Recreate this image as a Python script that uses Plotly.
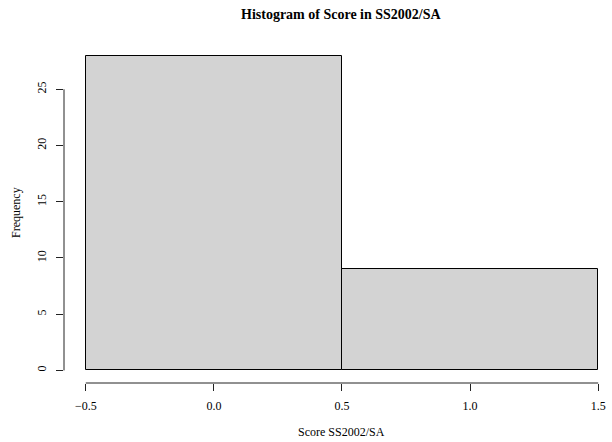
import plotly.graph_objects as go

# Data
bin_edges = [-0.5, 0.5, 1.5]
counts = [28, 9]
x_ticks = [-0.5, 0.0, 0.5, 1.0, 1.5]
x_tick_labels = ["\u22120.5", "0.0", "0.5", "1.0", "1.5"]
y_ticks = [0, 5, 10, 15, 20, 25]
y_tick_labels = ["0", "5", "10", "15", "20", "25"]
title_text = "<b>Histogram of Score in SS2002/SA</b>"
x_label = "Score SS2002/SA"
y_label = "Frequency"

W, H = 612, 442
ml, mr, mt, mb = 64, 0, 43, 59
plot_w = W - ml - mr
px_per_unit = 256.2
x0 = -0.585
x1 = x0 + plot_w / px_per_unit

centers = [(bin_edges[i] + bin_edges[i + 1]) / 2 for i in range(len(counts))]
widths = [bin_edges[i + 1] - bin_edges[i] for i in range(len(counts))]

font_family = "Liberation Serif, Times New Roman, serif"

fig = go.Figure()
fig.add_trace(go.Bar(
    x=centers, y=counts, width=widths,
    marker=dict(color="#D3D3D3", line=dict(color="black", width=1)),
    hoverinfo="skip",
))

fig.update_layout(
    width=W, height=H,
    margin=dict(l=ml, r=mr, t=mt, b=mb, pad=0),
    paper_bgcolor="white", plot_bgcolor="white",
    showlegend=False,
    font=dict(family=font_family, size=12, color="black"),
    bargap=0,
    xaxis=dict(
        range=[x0, x1], showgrid=False, zeroline=False, showline=False,
        tickmode="array", tickvals=x_ticks, ticktext=x_tick_labels,
        ticks="outside", ticklen=7, tickwidth=1, tickcolor="#222",
        tickfont=dict(size=12, family=font_family), ticklabelstandoff=5,
        fixedrange=True,
    ),
    yaxis=dict(
        range=[-1.12, 29.12], showgrid=False, zeroline=False, showline=False,
        tickmode="array", tickvals=y_ticks, ticktext=y_tick_labels,
        ticks="outside", ticklen=7, tickwidth=1, tickcolor="#222",
        tickangle=-90, tickfont=dict(size=12, family=font_family), ticklabelstandoff=5,
        fixedrange=True,
    ),
)

# Axis lines (R style, spanning only the tick range)
fig.add_shape(type="line", xref="x", yref="paper", x0=x_ticks[0], x1=x_ticks[-1], y0=0, y1=0,
              line=dict(color="#222", width=1))
fig.add_shape(type="line", xref="paper", yref="y", x0=0, x1=0, y0=y_ticks[0], y1=y_ticks[-1],
              line=dict(color="#222", width=1))

# Title and axis labels
fig.add_annotation(text=title_text, xref="paper", yref="paper",
                   x=(341 - ml) / plot_w, y=1 + (mt - 14) / (H - mt - mb),
                   showarrow=False, xanchor="center", yanchor="middle",
                   font=dict(size=14, family=font_family))
fig.add_annotation(text=x_label, xref="paper", yref="paper",
                   x=(341 - ml) / plot_w, y=-(432 - (H - mb)) / (H - mt - mb),
                   showarrow=False, xanchor="center", yanchor="middle",
                   font=dict(size=12, family=font_family))
fig.add_annotation(text=y_label, xref="paper", yref="paper",
                   x=-(ml - 16) / plot_w, y=0.5, textangle=-90,
                   showarrow=False, xanchor="center", yanchor="middle",
                   font=dict(size=12, family=font_family))

fig.write_html("out.html", config={"displayModeBar": False},
               post_script="document.body.style.margin='0';document.body.style.overflow='hidden';")
